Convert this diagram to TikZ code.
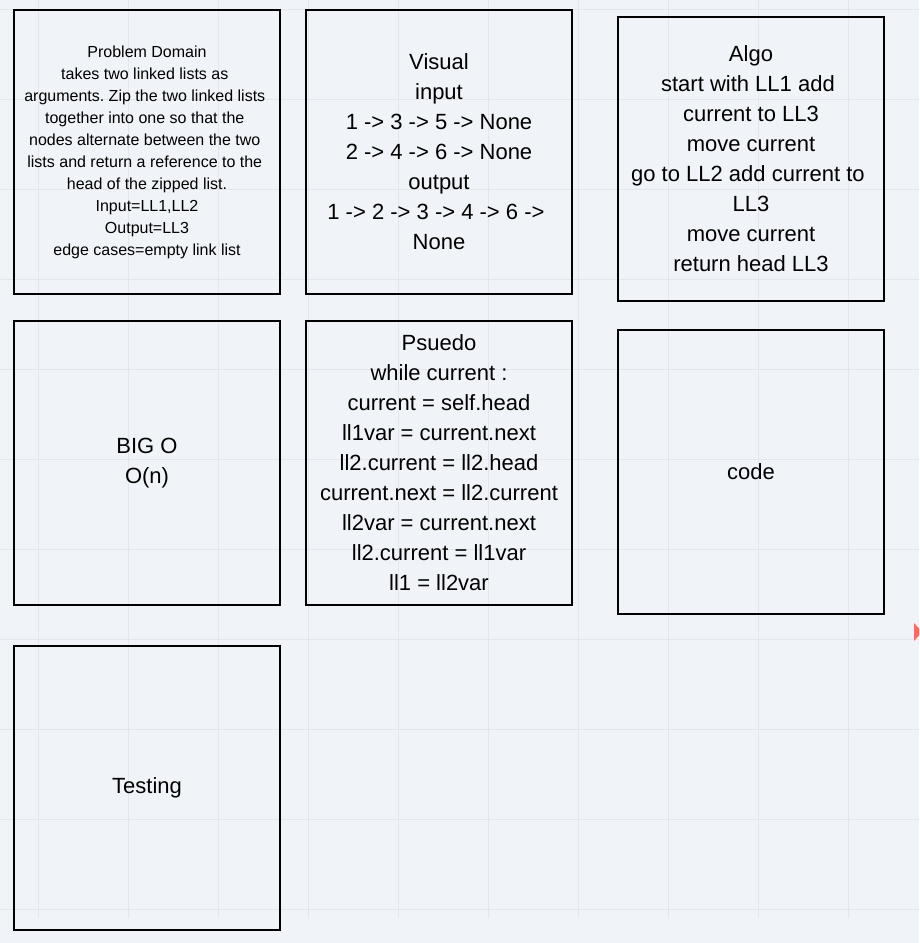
\documentclass[tikz,border=0pt]{standalone}
\usepackage{fontspec}
\setmainfont{Liberation Sans}
\frenchspacing
\definecolor{bgc}{RGB}{240,243,247}
\definecolor{gridc}{RGB}{227,231,237}
\definecolor{redmark}{RGB}{255,102,102}
\newcommand{\wrapsp}{\kern0.278em}
\tikzset{
  card/.style={draw=black, line width=2pt, minimum width=266pt, minimum height=284pt, inner sep=0pt, align=center},
  smalltext/.style={font=\fontsize{16}{22}\selectfont},
  bigtext/.style={font=\fontsize{22}{30}\selectfont},
  gridline/.style={draw=gridc, line width=1pt}
}
\begin{document}
\begin{tikzpicture}[x=1pt,y=-1pt]
\useasboundingbox (0,0) rectangle (919,943);
\fill[bgc] (0,0) rectangle (919,943);
\foreach \gx in {38,128,...,848} { \draw[gridline] (\gx,0) -- (\gx,918); }
\foreach \gy in {9.5,99.5,...,910} { \draw[gridline] (0,\gy) -- (919,\gy); }
\begin{scope}
\clip (0,0) rectangle (919,943);
\fill[redmark] (914,623) -- (922,632) -- (914,641) -- cycle;
\end{scope}
\node[card, smalltext] (domain) at (147,152) {Problem Domain\\takes two linked lists as\wrapsp\\arguments. Zip the two linked lists\wrapsp\\together into one so that the\wrapsp\\nodes alternate between the two\wrapsp\\lists and return a reference to the\wrapsp\\head of the zipped list.\\Input=LL1,LL2\\Output=LL3\\edge cases=empty link list};
\node[card, bigtext] (visual) at (439,152) {Visual\\input\\1 -> 3 -> 5 -> None\\2 -> 4 -> 6 -> None\\output\\1 -> 2 -> 3 -> 4 -> 6 ->\wrapsp\\None};
\node[card, bigtext] (algo) at (751,159) {Algo\\start with LL1 add\wrapsp\\current to LL3\\move current\\go to LL2 add current to\wrapsp\\LL3\\move current\\return head LL3};
\node[card, bigtext] (bigo) at (147,463) {BIG O\\O(n)};
\node[card, bigtext] (pseudo) at (439,463) {Psuedo\\while current :\\current = self.head\\ll1var = current.next\\ll2.current = ll2.head\\current.next = ll2.current\\ll2var = current.next\\ll2.current = ll1var\\ll1 = ll2var};
\node[card, bigtext] (code) at (751,472) {code};
\node[card, bigtext] (testing) at (147,788) {Testing};
\end{tikzpicture}
\end{document}
